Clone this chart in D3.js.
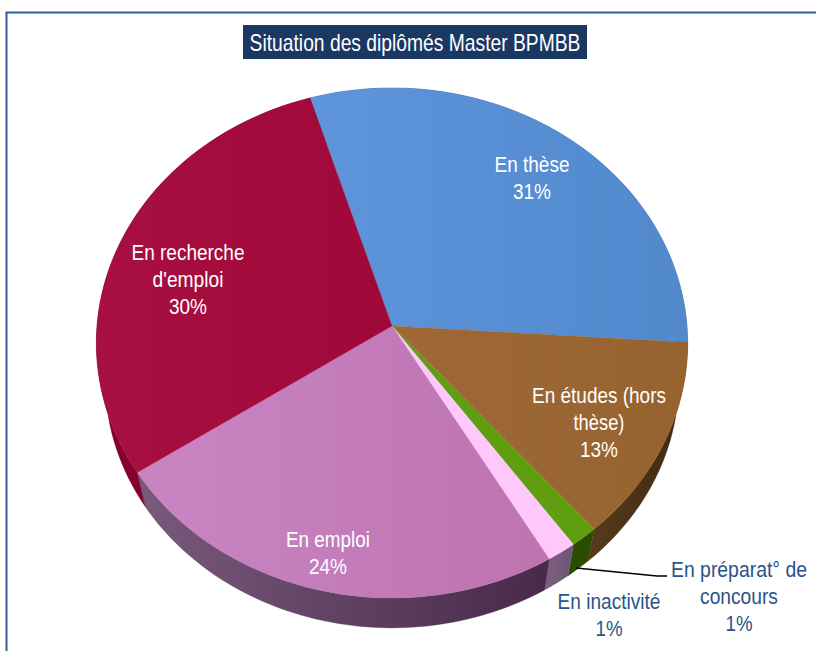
<!DOCTYPE html>
<html><head><meta charset="utf-8">
<script src="https://cdn.jsdelivr.net/npm/d3@7"></script>
<style>html,body{margin:0;padding:0;background:#fff}svg{display:block}text{font-family:"Liberation Sans",Arial,sans-serif}</style>
</head><body><div id="c"></div>
<script>
const title = "Situation des diplômés Master BPMBB";
const categories = ["En thèse","En études (hors thèse)","En préparat° de concours","En inactivité","En emploi","En recherche d'emploi"];
const values = [30.8,12.7,1.4,1.5,24,29.6];
const percentLabels = ["31%","13%","1%","1%","24%","30%"];
const topColors = [["#5e95db","#5288cc"],["#9f6937","#96632f"],["#5f9e10","#5f9e10"],["#ffc8fb","#ffc8fb"],["#c985c2","#bd74b1"],["#a80f42","#9f0838"]];
const sideColors = [["#3f618c","#3f618c"],["#573a1c","#3f2a14"],["#2c4d00","#2c4d00"],["#7d6080","#6e5573"],["#7a5a7c","#48294a"],["#8a0030","#6a0022"]];
const labelLines = [["En thèse","31%"],["En études (hors","thèse)","13%"],["En préparat° de","concours","1%"],["En inactivité","1%"],["En emploi","24%"],["En recherche","d'emploi","30%"]];
const inside = [true,true,false,false,true,true];

const W=816,H=651;
const svg=d3.select("#c").append("svg").attr("width",W).attr("height",H);
const cx=392,cy=326,b=295,a=253.9,k=0.0667,ds=0.97,dz=38;
// perspective projection of the unit disc: angle measured clockwise from the top
const proj=(ang,r=1,s=1,dy=0)=>{
  const X=r*Math.sin(ang),Y=-r*Math.cos(ang),w=1-k*Y;
  return [cx+s*b*X/w, cy+dy+s*a*Y/w];
};
const pie=d3.pie().sort(null).startAngle(-17.2*Math.PI/180).endAngle((360-17.2)*Math.PI/180);
const arcs=pie(values);
const line=d3.line();
const arcPts=(d,s,dy)=>d3.range(0,61).map(i=>proj(d.startAngle+(d.endAngle-d.startAngle)*i/60,1,s,dy));
const defs=svg.append("defs");
const grad=(id,cols)=>{const g=defs.append("linearGradient").attr("id",id);
  g.append("stop").attr("offset","0%").attr("stop-color",cols[0]);
  g.append("stop").attr("offset","100%").attr("stop-color",cols[1]);};
arcs.forEach((d,i)=>{grad("t"+i,topColors[i]);grad("s"+i,sideColors[i]);});

// frame
svg.append("path").attr("d",line([[6.5,H],[6.5,12.5],[W,12.5]])).attr("fill","none").attr("stroke","#2f5f9c").attr("stroke-width",2);
// walls
svg.append("g").selectAll("path").data(arcs).join("path")
  .attr("d",d=>line([...arcPts(d,1,0),...arcPts(d,ds,dz).reverse()])+"Z")
  .attr("fill",(d,i)=>`url(#s${i})`).attr("stroke",(d,i)=>sideColors[i][1]).attr("stroke-width",0.3);
// tops
svg.append("g").selectAll("path").data(arcs).join("path")
  .attr("d",d=>line([[cx,cy],...arcPts(d,1,0)])+"Z")
  .attr("fill",(d,i)=>`url(#t${i})`).attr("stroke",(d,i)=>topColors[i][1]).attr("stroke-width",0.3);
// leader
svg.append("path").attr("d",line([[576,568],[657,576],[667,576]])).attr("fill","none").attr("stroke","#000").attr("stroke-width",1.5);
// text with a condensed look: a taller font squeezed horizontally to the target width
const squeezed=(sel,x,y,size,fill,width,t)=>{
  const n=sel.append("text").attr("text-anchor","middle").attr("font-size",size).attr("fill",fill).text(t);
  const sx=width/n.node().getComputedTextLength();
  n.attr("transform",`translate(${x},${y}) scale(${sx},1)`);
};
// title
svg.append("rect").attr("x",243).attr("y",25).attr("width",344).attr("height",34).attr("fill","#1a3862");
squeezed(svg,415,51,23,"#fff",331,title);
// labels (anchor of each block's first baseline, then line step)
const labelAnchor=[[532,172],[599,403],[739,577],[609,609],[328,547],[188,260]];
const labelWidth=[[75,38],[134,51,38],[136,78,27],[103,27],[84,38],[113,71,38]];
const g=svg.append("g");
labelLines.forEach((ls,i)=>ls.forEach((t,j)=>{
  squeezed(g,labelAnchor[i][0],labelAnchor[i][1]+j*27,22.5,inside[i]?"#fff":"#2a5488",labelWidth[i][j],t);
}));
</script></body></html>
